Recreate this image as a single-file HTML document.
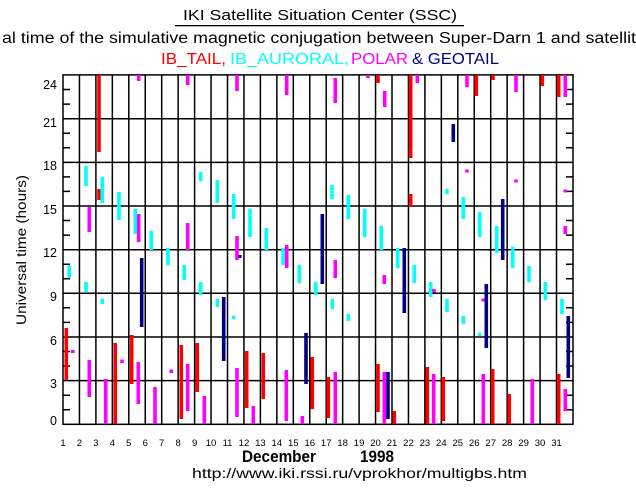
<!DOCTYPE html>
<html><head><meta charset="utf-8"><style>
html,body{margin:0;padding:0;background:#fff;}
svg{display:block;}
text{font-family:"Liberation Sans",sans-serif;}
</style></head><body>
<svg width="636" height="500" viewBox="0 0 636 500" xmlns="http://www.w3.org/2000/svg">
<rect width="636" height="500" fill="#fff"/>
<text x="183" y="20" font-size="15" textLength="274" lengthAdjust="spacingAndGlyphs">IKI Satellite Situation Center (SSC)</text>
<rect x="175" y="25" width="289" height="1.3" fill="#000"/>
<text x="2" y="43" font-size="15.5" textLength="634" lengthAdjust="spacingAndGlyphs">al time of the simulative magnetic conjugation between Super-Darn 1 and satellit</text>
<text x="161" y="64" font-size="15.5" fill="#f00" textLength="65" lengthAdjust="spacingAndGlyphs">IB_TAIL,</text>
<text x="230" y="64" font-size="15.5" fill="#00ffff" textLength="119" lengthAdjust="spacingAndGlyphs">IB_AURORAL,</text>
<text x="351" y="64" font-size="15.5" fill="#f0f" textLength="57" lengthAdjust="spacingAndGlyphs">POLAR</text>
<text x="412" y="64" font-size="15.5" fill="#000080" textLength="87" lengthAdjust="spacingAndGlyphs">&amp; GEOTAIL</text>

<g stroke="#000" stroke-width="1.5" fill="none">
<rect x="63" y="74.9" width="510" height="349.4"/>
<path d="M63 380.6H573M63 337H573M63 293.3H573M63 249.7H573M63 206H573M63 162.4H573M63 118.7H573"/>
<path d="M79.45 75V424M95.9 75V424M112.35 75V424M128.8 75V424M145.25 75V424M161.7 75V424M178.15 75V424M194.6 75V424M211.05 75V424M227.5 75V424M243.95 75V424M260.4 75V424M276.85 75V424M293.3 75V424M309.75 75V424M326.2 75V424M342.65 75V424M359.1 75V424M375.55 75V424M392 75V424M408.45 75V424M424.9 75V424M441.35 75V424M457.8 75V424M474.25 75V424M490.7 75V424M507.15 75V424M523.6 75V424M540.05 75V424M556.5 75V424"/>
<path d="M63 409.7h7M63 395.2h7M63 366h7M63 351.5h7M63 322.4h7M63 307.8h7M63 278.7h7M63 264.2h7M63 235.1h7M63 220.5h7M63 191.4h7M63 176.9h7M63 147.8h7M63 133.2h7M63 104.1h7M63 89.5h7"/>
<path d="M573 409.7h-7M573 395.2h-7M573 366h-7M573 351.5h-7M573 322.4h-7M573 307.8h-7M573 278.7h-7M573 264.2h-7M573 235.1h-7M573 220.5h-7M573 191.4h-7M573 176.9h-7M573 147.8h-7M573 133.2h-7M573 104.1h-7M573 89.5h-7"/>
</g>

<g font-size="12.5" text-anchor="end">
<text x="57" y="89">24</text><text x="57" y="127">21</text><text x="57" y="170">18</text><text x="57" y="214">15</text><text x="57" y="257">12</text><text x="57" y="301">9</text><text x="57" y="345">6</text><text x="57" y="388">3</text><text x="57" y="425">0</text>
</g>
<text transform="translate(26,250) rotate(-90)" font-size="13.5" text-anchor="middle" textLength="150" lengthAdjust="spacingAndGlyphs">Universal time (hours)</text>

<g font-size="9.5" text-anchor="middle">
<text x="63" y="446">1</text><text x="79.45" y="446">2</text><text x="95.9" y="446">3</text><text x="112.35" y="446">4</text><text x="128.8" y="446">5</text><text x="145.25" y="446">6</text><text x="161.7" y="446">7</text><text x="178.15" y="446">8</text><text x="194.6" y="446">9</text><text x="211.05" y="446">10</text><text x="227.5" y="446">11</text><text x="243.95" y="446">12</text><text x="260.4" y="446">13</text><text x="276.85" y="446">14</text><text x="293.3" y="446">15</text><text x="309.75" y="446">16</text><text x="326.2" y="446">17</text><text x="342.65" y="446">18</text><text x="359.1" y="446">19</text><text x="375.55" y="446">20</text><text x="392" y="446">21</text><text x="408.45" y="446">22</text><text x="424.9" y="446">23</text><text x="441.35" y="446">24</text><text x="457.8" y="446">25</text><text x="474.25" y="446">26</text><text x="490.7" y="446">27</text><text x="507.15" y="446">28</text><text x="523.6" y="446">29</text><text x="540.05" y="446">30</text><text x="556.5" y="446">31</text>
</g>
<text x="242" y="462" font-size="16.5" font-weight="bold" textLength="74" lengthAdjust="spacingAndGlyphs">December</text>
<text x="360" y="462" font-size="16.5" font-weight="bold" textLength="34" lengthAdjust="spacingAndGlyphs">1998</text>
<text x="192" y="478" font-size="14" textLength="335" lengthAdjust="spacingAndGlyphs">http://www.iki.rssi.ru/vprokhor/multigbs.htm</text>

<!-- red -->
<g fill="#f00">
<rect x="97.2" y="75" width="3.6" height="77"/>
<rect x="97.2" y="189" width="3.6" height="11"/>
<rect x="64.5" y="328" width="3.6" height="52"/>
<rect x="113.5" y="343" width="3.6" height="81"/>
<rect x="129.9" y="335" width="3.6" height="49"/>
<rect x="179.5" y="345" width="3.6" height="74"/>
<rect x="195.5" y="343" width="3.6" height="49"/>
<rect x="244.9" y="351" width="3.6" height="57"/>
<rect x="261.5" y="353" width="3.6" height="46"/>
<rect x="310.5" y="357" width="3.6" height="52"/>
<rect x="376.2" y="75" width="3.6" height="8"/>
<rect x="408.9" y="75" width="3.6" height="83"/>
<rect x="474.5" y="75" width="3.6" height="21"/>
<rect x="491.2" y="75" width="3.6" height="5"/>
<rect x="540.5" y="75" width="3.6" height="11"/>
<rect x="556.9" y="75" width="3.6" height="22"/>
<rect x="408.9" y="194" width="3.6" height="13"/>
<rect x="326.5" y="377" width="3.6" height="41"/>
<rect x="376.2" y="364" width="3.6" height="48"/>
<rect x="392.5" y="411" width="3.6" height="13"/>
<rect x="425.5" y="367" width="3.6" height="57"/>
<rect x="441.5" y="377" width="3.6" height="44"/>
<rect x="490.9" y="369" width="3.6" height="55"/>
<rect x="507.5" y="394" width="3.6" height="30"/>
<rect x="556.9" y="374" width="3.6" height="50"/>
</g>
<!-- cyan -->
<g fill="#00ffff">
<rect x="84.2" y="166" width="3.6" height="20"/>
<rect x="100.5" y="177" width="3.6" height="26"/>
<rect x="117.2" y="192" width="3.6" height="28"/>
<rect x="198.9" y="172" width="3.6" height="9"/>
<rect x="215.5" y="180" width="3.6" height="23"/>
<rect x="231.9" y="194" width="3.6" height="25"/>
<rect x="133.5" y="209" width="3.6" height="25"/>
<rect x="149.5" y="231" width="3.6" height="19"/>
<rect x="166.2" y="248" width="3.6" height="17"/>
<rect x="248.2" y="209" width="3.6" height="28"/>
<rect x="264.5" y="228" width="3.6" height="22"/>
<rect x="281.2" y="248" width="3.6" height="17"/>
<rect x="67.5" y="265" width="3.6" height="13"/>
<rect x="84.2" y="282" width="3.6" height="10"/>
<rect x="100.5" y="299" width="3.6" height="5"/>
<rect x="182.5" y="265" width="3.6" height="15"/>
<rect x="198.9" y="282" width="3.6" height="13"/>
<rect x="215.5" y="299" width="3.6" height="8"/>
<rect x="231.9" y="316" width="3.6" height="3"/>
<rect x="297.5" y="265" width="3.6" height="18"/>
<rect x="313.9" y="282" width="3.6" height="13"/>
<rect x="330.2" y="185" width="3.6" height="14"/>
<rect x="346.5" y="195" width="3.6" height="24"/>
<rect x="362.9" y="209" width="3.6" height="28"/>
<rect x="379.5" y="226" width="3.6" height="24"/>
<rect x="445.2" y="189" width="3.6" height="5"/>
<rect x="461.5" y="197" width="3.6" height="22"/>
<rect x="477.9" y="212" width="3.6" height="25"/>
<rect x="494.9" y="226" width="3.6" height="27"/>
<rect x="510.9" y="247" width="3.6" height="21"/>
<rect x="395.9" y="248" width="3.6" height="20"/>
<rect x="412.5" y="265" width="3.6" height="18"/>
<rect x="428.9" y="282" width="3.6" height="15"/>
<rect x="330.5" y="299" width="3.6" height="10"/>
<rect x="346.5" y="314" width="3.6" height="7"/>
<rect x="445.2" y="299" width="3.6" height="13"/>
<rect x="461.5" y="316" width="3.6" height="8"/>
<rect x="477.9" y="333" width="3.6" height="3"/>
<rect x="527.2" y="266" width="3.6" height="16"/>
<rect x="543.5" y="282" width="3.6" height="18"/>
<rect x="560.2" y="299" width="3.6" height="15"/>
</g>
<!-- magenta -->
<g fill="#ff00ff">
<rect x="136.9" y="75" width="3.6" height="6"/>
<rect x="185.9" y="75" width="3.6" height="10"/>
<rect x="235.2" y="75" width="3.6" height="16"/>
<rect x="284.9" y="75" width="3.6" height="20"/>
<rect x="87.5" y="207" width="3.6" height="25"/>
<rect x="136.9" y="214" width="3.6" height="28"/>
<rect x="185.9" y="223" width="3.6" height="27"/>
<rect x="235.2" y="236" width="3.6" height="24"/>
<rect x="284.9" y="245" width="3.6" height="23"/>
<rect x="71" y="350" width="3.6" height="3"/>
<rect x="87.5" y="360" width="3.6" height="37"/>
<rect x="103.9" y="379" width="3.6" height="45"/>
<rect x="120.2" y="359.5" width="3.6" height="3.5"/>
<rect x="136.5" y="362" width="3.6" height="42"/>
<rect x="153.2" y="387" width="3.6" height="37"/>
<rect x="169.5" y="369.5" width="3.6" height="3.5"/>
<rect x="185.9" y="364" width="3.6" height="47"/>
<rect x="202.5" y="396" width="3.6" height="28"/>
<rect x="235.2" y="368" width="3.6" height="49"/>
<rect x="251.5" y="406" width="3.6" height="18"/>
<rect x="284.5" y="370" width="3.6" height="51"/>
<rect x="300.5" y="416" width="3.6" height="8"/>
<rect x="333.5" y="78" width="3.6" height="25"/>
<rect x="366.2" y="75" width="3.6" height="3"/>
<rect x="382.9" y="91" width="3.6" height="16"/>
<rect x="415.5" y="75" width="3.6" height="8"/>
<rect x="465.2" y="75" width="3.6" height="12"/>
<rect x="514.2" y="75" width="3.6" height="17"/>
<rect x="563.5" y="75" width="3.6" height="22"/>
<rect x="465.2" y="169.5" width="3.6" height="3"/>
<rect x="514.2" y="179.5" width="3.6" height="3"/>
<rect x="563.5" y="189.5" width="3.6" height="3"/>
<rect x="563.5" y="226" width="3.6" height="8"/>
<rect x="333.5" y="260" width="3.6" height="18"/>
<rect x="382.5" y="275" width="3.6" height="9"/>
<rect x="432.2" y="289" width="3.6" height="3.5"/>
<rect x="481.5" y="298.5" width="3.6" height="3"/>
<rect x="333.5" y="372" width="3.6" height="52"/>
<rect x="382.5" y="372" width="3.6" height="52"/>
<rect x="431.9" y="374" width="3.6" height="50"/>
<rect x="481.5" y="374" width="3.6" height="50"/>
<rect x="530.5" y="379" width="3.6" height="45"/>
<rect x="563.5" y="389" width="3.6" height="22"/>
</g>
<!-- navy -->
<g fill="#000080">
<rect x="139.9" y="258" width="3.6" height="69"/>
<rect x="221.9" y="297" width="3.6" height="64"/>
<rect x="238.5" y="255" width="3" height="3"/>
<rect x="304.2" y="333" width="3.6" height="51"/>
<rect x="451.5" y="124" width="3.6" height="18"/>
<rect x="320.5" y="214" width="3.6" height="70"/>
<rect x="402.5" y="248" width="3.6" height="65"/>
<rect x="500.9" y="199" width="3.6" height="61"/>
<rect x="484.5" y="284" width="3.6" height="64"/>
<rect x="566.5" y="316" width="3.6" height="62"/>
<rect x="386.2" y="372" width="3.6" height="47"/>
</g>
</svg>
</body></html>
